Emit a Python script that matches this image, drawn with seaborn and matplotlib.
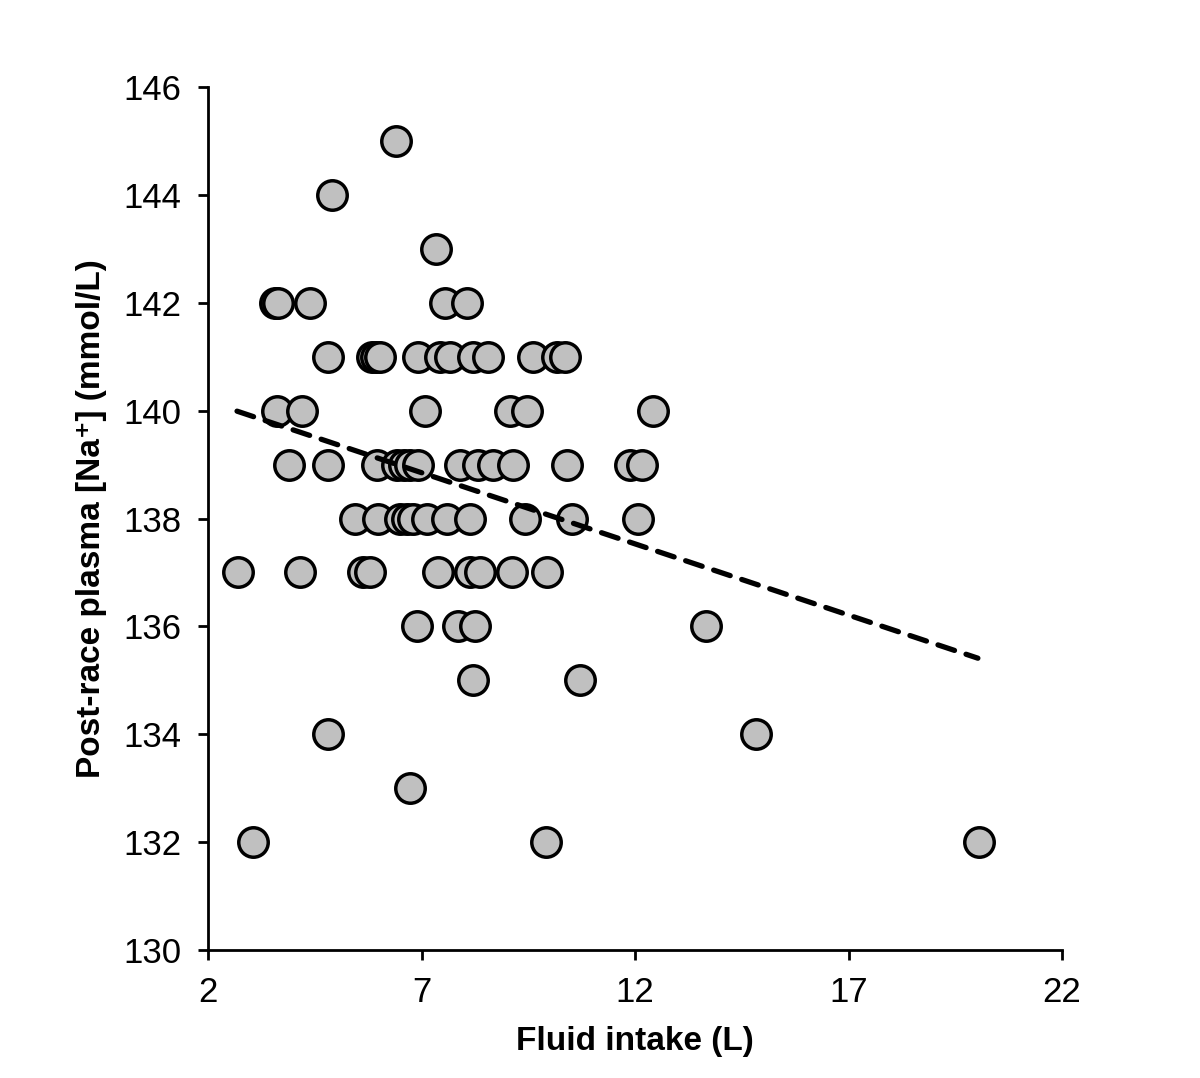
import numpy as np
import pandas as pd
import matplotlib
matplotlib.use("Agg")
import matplotlib.pyplot as plt
import seaborn as sns

# ---- data ----
fluid_145 = [6.40]
fluid_144 = [4.90]
fluid_143 = [7.34]
fluid_142 = [3.57, 3.64, 4.39, 7.55, 8.07]
fluid_141 = [4.81, 5.84, 5.93, 6.03, 6.92, 7.43, 7.67, 8.21, 8.56, 9.61, 10.17, 10.36]
fluid_140 = [3.62, 4.20, 7.08, 9.07, 9.47, 12.42]
fluid_139 = [3.90, 4.81, 5.96, 6.43, 6.59, 6.73, 6.92, 7.90, 8.32, 8.67, 9.14, 10.41, 11.88, 12.16]
fluid_138 = [5.44, 5.98, 6.50, 6.66, 6.80, 7.13, 7.60, 8.14, 9.42, 10.52, 12.07]
fluid_137 = [2.70, 4.15, 5.63, 5.79, 7.39, 8.14, 8.37, 9.12, 9.94]
fluid_136 = [6.89, 7.85, 8.25, 13.66]
fluid_135 = [8.21, 10.71]
fluid_134 = [4.81, 14.83]
fluid_133 = [6.73]
fluid_132 = [3.05, 9.92, 20.06]

sodium_levels = [145, 144, 143, 142, 141, 140, 139, 138, 137, 136, 135, 134, 133, 132]
fluid_groups = [fluid_145, fluid_144, fluid_143, fluid_142, fluid_141, fluid_140,
                fluid_139, fluid_138, fluid_137, fluid_136, fluid_135, fluid_134,
                fluid_133, fluid_132]

trend_x = [2.68, 20.03]
trend_y = [139.99, 135.41]

x_ticks = [2, 7, 12, 17, 22]
y_ticks = [130, 132, 134, 136, 138, 140, 142, 144, 146]

xs, ys = [], []
for lvl, grp in zip(sodium_levels, fluid_groups):
    xs.extend(grp)
    ys.extend([lvl] * len(grp))
df = pd.DataFrame({"fluid": xs, "sodium": ys})

# ---- styling ----
sns.set_style("white")
plt.rcParams["font.family"] = ["Liberation Sans", "DejaVu Sans"]

fig = plt.figure(figsize=(12, 10.78), dpi=100)
ax = fig.add_axes([208/1200, 1 - 950/1078, (1062-208)/1200, (950-87)/1078])

sns.scatterplot(data=df, x="fluid", y="sodium", ax=ax, s=450,
                color="#C0C0C0", edgecolor="black", linewidth=2.5,
                zorder=2, legend=False)
sns.lineplot(x=trend_x, y=trend_y, ax=ax, color="black", linewidth=3.8,
             dashes=False, zorder=3)
line = ax.lines[-1]
line.set_linestyle((0, (3.3, 2.3)))
line.set_dash_capstyle("round")

ax.set_xlim(2, 22)
ax.set_ylim(130, 146)
ax.set_xticks(x_ticks)
ax.set_yticks(y_ticks)
ax.set_xticklabels([str(t) for t in x_ticks])
ax.set_yticklabels([str(t) for t in y_ticks])

for side in ["top", "right"]:
    ax.spines[side].set_visible(False)
for side in ["left", "bottom"]:
    ax.spines[side].set_linewidth(2)
    ax.spines[side].set_color("black")

ax.tick_params(axis="both", which="major", direction="out", length=7, width=2,
               color="black", labelsize=25, labelcolor="black")
ax.tick_params(axis="x", pad=12)
ax.tick_params(axis="y", pad=12)
ax.tick_params(left=True, bottom=True)

ax.set_xlabel("Fluid intake (L)", fontsize=24, fontweight="bold", labelpad=12,
              color="black")
ax.set_ylabel("Post-race plasma [Na\u207A] (mmol/L)", fontsize=24,
              fontweight="bold", labelpad=12, color="black",
              family=["Liberation Sans", "DejaVu Sans"])

fig.savefig("out.png", dpi=100, facecolor="white")
